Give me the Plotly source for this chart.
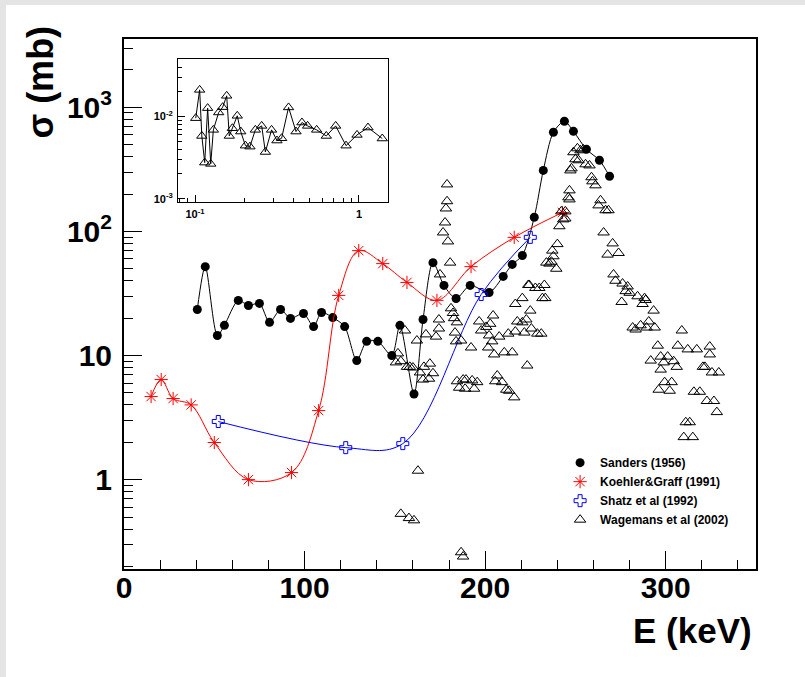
import plotly.graph_objects as go

# ---------------- data ----------------
sanders_E = [40.6, 45.0, 51.7, 55.6, 63.3, 68.9, 75.0, 80.6, 86.7, 92.2, 99.4, 105.0, 109.4, 115.6,
             122.2, 128.9, 134.4, 140.6, 148.3, 152.8, 160.6, 165.6, 171.1, 177.2, 183.9, 191.7,
             202.2, 210.0, 215.0, 220.6, 227.2, 232.2, 237.8, 243.9, 248.9, 256.1, 263.3, 268.9]
sanders_sig = [23.5, 52, 14.5, 17.5, 27.8, 25.3, 26.3, 18.5, 23.5, 19.9, 21.8, 17.1, 22.2, 20.2,
               17.1, 9.1, 13.0, 13.0, 10.0, 17.5, 4.9, 19.5, 56, 36.7, 28.8, 36.7,
               32.2, 43.4, 54.2, 64, 130, 310, 629, 771, 640, 458, 374, 278]

koehler_E = [15.0, 20.6, 27.2, 37.2, 50.0, 68.9, 92.8, 107.8, 118.9, 130.0, 143.3, 156.7,
             173.3, 192.2, 216.1, 242.8]
koehler_sig = [4.67, 6.4, 4.5, 4.0, 1.99, 1.0, 1.14, 3.6, 30.5, 70, 55, 38.8, 27.8, 52, 89.5, 142]

shatz_E = [52.2, 122.8, 154.4, 197.8, 225.0]
shatz_sig = [2.94, 1.81, 1.95, 31, 89.5]

wagemans_points = [
    (153.3, 0.53), (157.8, 0.49), (160.6, 0.47), (162.8, 1.18), (186.7, 0.26), (187.8, 0.24),
    (178.9, 239), (178.9, 175), (178.3, 153), (177.8, 118), (176.7, 98), (179.4, 83), (180.6, 56),
    (175.0, 45), (181.1, 24), (182.2, 22), (182.8, 20), (184.4, 18.5), (174.4, 19.5), (174.4, 16.5),
    (167.2, 14.8), (162.2, 13.2), (172.8, 14.2), (183.3, 15.3), (186.7, 13.2), (183.9, 13.0),
    (192.2, 11.6), (196.7, 18.8), (197.8, 15.9), (200.6, 17), (202.8, 18), (204.4, 21), (202.2, 14.5),
    (207.8, 14.2), (203.9, 13.0), (201.7, 11.6), (205.0, 10.2), (210.6, 10.6), (215.0, 10.6),
    (212.8, 15), (216.7, 15.6), (217.8, 18.8), (221.7, 15.3), (222.8, 19.5), (225.0, 23), (220.6, 18.5),
    (225.6, 16.5), (228.9, 15), (231.1, 15), (224.4, 37), (227.8, 35), (230.0, 35), (232.8, 37),
    (231.7, 29), (233.3, 29), (216.7, 26), (220.6, 29), (237.2, 70), (237.8, 63), (236.7, 57),
    (239.4, 50), (240.0, 79), (241.1, 110), (243.3, 125), (244.4, 145), (242.2, 145), (246.7, 181),
    (246.7, 214), (247.2, 310),
    (151.7, 10.4), (150.6, 8.8), (153.3, 9.0), (156.7, 8.1), (158.3, 8.1), (160.0, 8.0), (166.1, 8.1),
    (169.4, 8.6), (163.9, 7.3), (165.6, 6.4), (168.9, 6.5), (171.1, 7.2), (184.4, 6.2), (187.8, 6.4),
    (189.4, 6.4), (192.8, 6.3), (195.6, 6.1), (185.6, 5.5), (188.9, 5.4), (193.9, 5.4), (206.7, 6.9),
    (205.6, 6.2), (209.4, 6.1), (211.7, 5.3), (213.3, 5.2), (216.1, 4.6), (223.3, 8.3), (155.6, 15.9),
    (248.9, 434), (251.1, 467), (252.8, 450), (254.4, 458), (250.0, 381), (251.7, 374), (255.6, 347),
    (257.8, 340), (247.8, 322), (258.9, 273), (259.4, 253), (261.1, 235), (246.1, 188), (244.4, 127),
    (263.9, 178), (262.8, 162), (266.7, 148), (268.3, 148), (265.6, 98), (270.6, 80), (267.8, 65),
    (273.9, 67), (233.9, 56), (235.6, 55), (271.1, 45), (272.2, 40), (276.1, 38), (278.9, 36),
    (277.8, 33), (280.0, 32), (284.4, 30), (288.3, 29), (223.9, 37),
    (275.6, 27), (288.9, 28), (287.2, 26), (293.3, 23), (290.6, 18.8), (286.1, 17.5), (281.7, 16.8),
    (283.3, 16.2), (289.4, 16.8), (293.9, 16.8), (308.9, 15.9), (295.6, 12), (306.7, 12), (312.2, 11.2),
    (317.2, 11.2), (324.4, 11.8), (324.4, 10.2), (291.7, 9.1), (297.2, 9.8), (301.1, 9.8), (304.4, 9.0),
    (306.1, 8.1), (298.9, 8.8), (297.2, 7.7), (320.6, 8.1), (321.7, 8.1), (325.6, 7.3), (329.4, 7.3),
    (299.4, 6.1), (303.3, 6.1), (296.1, 5.3), (302.2, 5.2), (315.6, 5.1), (318.9, 5.1), (322.8, 4.3),
    (326.7, 4.3), (328.3, 3.5), (311.1, 2.9), (313.3, 2.9), (310.0, 2.2), (315.0, 2.2),
]
wag_E = [p[0] for p in wagemans_points]
wag_sig = [p[1] for p in wagemans_points]

inset_E = [0.101, 0.1067, 0.110, 0.1146, 0.1194, 0.1247, 0.1294, 0.1394, 0.1475, 0.156, 0.1618,
           0.169, 0.181, 0.190, 0.203, 0.2163, 0.2333, 0.255, 0.2686, 0.293, 0.316, 0.3375, 0.372,
           0.413, 0.449, 0.486, 0.552, 0.632, 0.721, 0.834, 0.973, 1.135, 1.387]
inset_sig = [0.00955, 0.0211, 0.0058, 0.00275, 0.01265, 0.00265, 0.00688, 0.0112, 0.0130, 0.01786,
             0.0058, 0.0072, 0.0102, 0.00656, 0.00442, 0.0043, 0.00688, 0.00769, 0.0037, 0.00688,
             0.0051, 0.00544, 0.0129, 0.00656, 0.00845, 0.00769, 0.00688, 0.0058, 0.00769, 0.00442,
             0.00597, 0.00734, 0.0054]

x_ticks = [0, 100, 200, 300]
x_ticklabels = ["0", "100", "200", "300"]
y_ticks = [1, 10, 100, 1000]
y_ticklabels = ["1", "10", "10<sup>2</sup>", "10<sup>3</sup>"]
inset_x_ticks = [0.1, 1]
inset_x_labels = ["10<sup>-1</sup>", "1"]
inset_y_ticks = [0.001, 0.01]
inset_y_labels = ["10<sup>-3</sup>", "10<sup>-2</sup>"]

# ---------------- style ----------------
FONT = "Liberation Sans, Arial, sans-serif"
W, H = 805, 677
ML, MR, MT, MB = 124, 49, 39, 108

def log_minor(lo_exp, hi_exp):
    vals = []
    for e in range(lo_exp, hi_exp + 1):
        for d in range(2, 10):
            vals.append(d * 10.0 ** e)
    return vals

fig = go.Figure()

# Sanders
fig.add_trace(go.Scatter(x=sanders_E, y=sanders_sig, mode="lines", line=dict(color="black", width=1, shape="spline", smoothing=0.8),
                         showlegend=False, hoverinfo="skip"))
fig.add_trace(go.Scatter(x=sanders_E, y=sanders_sig, mode="markers", name="Sanders (1956)",
                         marker=dict(symbol="circle", size=9, color="black")))
# Koehler & Graff
fig.add_trace(go.Scatter(x=koehler_E, y=koehler_sig, mode="lines", line=dict(color="red", width=1, shape="spline", smoothing=1.0),
                         showlegend=False, hoverinfo="skip"))
fig.add_trace(go.Scatter(x=koehler_E, y=koehler_sig, mode="markers", name="Koehler&Graff (1991)",
                         marker=dict(symbol="asterisk-open", size=11, color="red", line=dict(color="red", width=1))))
# Shatz
fig.add_trace(go.Scatter(x=shatz_E, y=shatz_sig, mode="lines", line=dict(color="blue", width=1, shape="spline", smoothing=1.0),
                         showlegend=False, hoverinfo="skip"))
fig.add_trace(go.Scatter(x=shatz_E, y=shatz_sig, mode="markers", name="Shatz et al (1992)",
                         marker=dict(symbol="cross-open", size=10, color="blue", line=dict(color="blue", width=1))))
# Wagemans
fig.add_trace(go.Scatter(x=wag_E, y=wag_sig, mode="markers", name="Wagemans et al (2002)",
                         marker=dict(symbol="triangle-up-open", size=10, color="black", line=dict(color="black", width=1))))

# Inset
fig.add_trace(go.Scatter(x=inset_E, y=inset_sig, mode="lines+markers", xaxis="x2", yaxis="y2", showlegend=False,
                         line=dict(color="black", width=1),
                         marker=dict(symbol="triangle-up-open", size=9, color="black", line=dict(color="black", width=1))))

tick_font = dict(family=FONT, size=30, color="black", weight="bold")
inset_font = dict(family=FONT, size=11, color="black", weight="bold")

fig.update_layout(
    width=W, height=H,
    margin=dict(l=ML, r=MR, t=MT, b=MB),
    paper_bgcolor="white", plot_bgcolor="white",
    xaxis=dict(range=[0, 350], tickmode="array", tickvals=x_ticks, ticktext=x_ticklabels,
               ticks="inside", ticklen=18, tickwidth=1, tickcolor="black",
               minor=dict(ticks="inside", ticklen=9, tickwidth=1, tickcolor="black", dtick=20, tick0=0, showgrid=False),
               showline=True, linecolor="black", linewidth=2, mirror=True, showgrid=False, zeroline=False,
               tickfont=tick_font, ticklabelstandoff=-9, domain=[0, 1]),
    yaxis=dict(type="log", range=[-0.72, 3.55], tickmode="array", tickvals=y_ticks, ticktext=y_ticklabels,
               ticks="inside", ticklen=18, tickwidth=1, tickcolor="black",
               minor=dict(ticks="inside", ticklen=9, tickwidth=1, tickcolor="black", tickmode="array",
                          tickvals=log_minor(-1, 3), showgrid=False),
               showline=True, linecolor="black", linewidth=2, mirror=True, showgrid=False, zeroline=False,
               tickfont=tick_font, ticklabelstandoff=4, domain=[0, 1]),
    xaxis2=dict(type="log", range=[-1.104, 0.177], anchor="y2", domain=[0.0854, 0.4177],
                tickmode="array", tickvals=inset_x_ticks, ticktext=inset_x_labels,
                ticks="inside", ticklen=7, tickwidth=1, tickcolor="black",
                minor=dict(ticks="inside", ticklen=4, tickwidth=1, tickcolor="black", tickmode="array",
                           tickvals=log_minor(-2, 0), showgrid=False),
                showline=True, linecolor="black", linewidth=1, mirror=True, showgrid=False, zeroline=False,
                tickfont=inset_font, ticklabelstandoff=2),
    yaxis2=dict(type="log", range=[-3.04, -1.30], anchor="x2", domain=[0.6925, 0.9623],
                tickmode="array", tickvals=inset_y_ticks, ticktext=inset_y_labels,
                ticks="inside", ticklen=7, tickwidth=1, tickcolor="black",
                minor=dict(ticks="inside", ticklen=4, tickwidth=1, tickcolor="black", tickmode="array",
                           tickvals=log_minor(-4, -2), showgrid=False),
                showline=True, linecolor="black", linewidth=1, mirror=True, showgrid=False, zeroline=False,
                tickfont=inset_font, ticklabelstandoff=2),
    legend=dict(x=0.69, y=0.228, xanchor="left", yanchor="top", bgcolor="rgba(0,0,0,0)",
                font=dict(family=FONT, size=12, color="black", weight="bold"), tracegroupgap=0,
                itemsizing="trace"),
    showlegend=True,
)

pw, ph = W - ML - MR, H - MT - MB
def px(xp):
    return (xp - ML) / pw
def py(yp):
    return (H - MB - yp) / ph

# light grey border strips of the canvas
fig.add_shape(type="rect", xref="paper", yref="paper", x0=px(0), x1=px(6), y0=py(H), y1=py(0),
              fillcolor="#e4e4e4", line=dict(width=0), layer="below")
fig.add_shape(type="rect", xref="paper", yref="paper", x0=px(0), x1=px(W), y0=py(5), y1=py(0),
              fillcolor="#e4e4e4", line=dict(width=0), layer="below")

fig.add_annotation(text="σ (mb)", xref="paper", yref="paper", x=px(40), y=py(24),
                   xanchor="center", yanchor="top", textangle=-90, showarrow=False,
                   font=dict(family=FONT, size=36, color="black", weight="bold"))
fig.add_annotation(text="E (keV)", xref="paper", yref="paper", x=px(754), y=py(630),
                   xanchor="right", yanchor="middle", showarrow=False,
                   font=dict(family=FONT, size=35, color="black", weight="bold"))

fig.write_html("out.html")
